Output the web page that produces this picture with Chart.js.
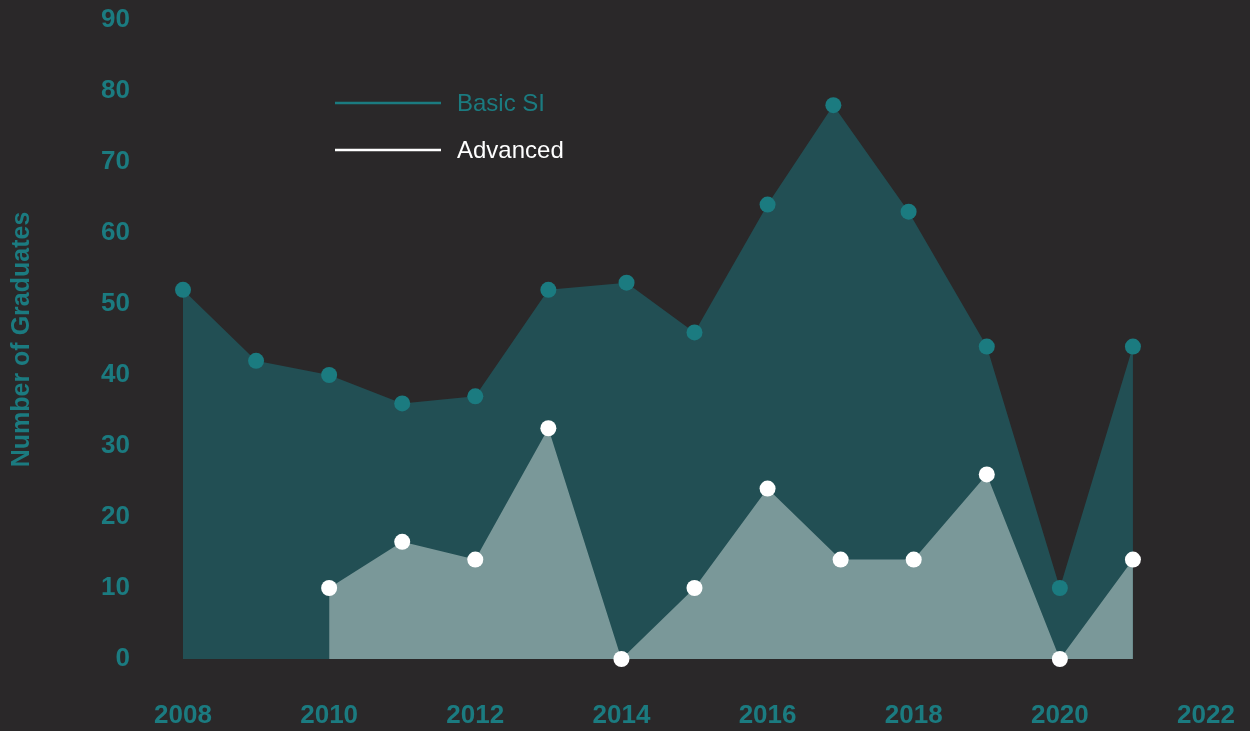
<!DOCTYPE html>
<html>
<head>
<meta charset="utf-8">
<script src="https://cdn.jsdelivr.net/npm/chart.js@4"></script>
<style>
  html, body { margin: 0; padding: 0; background: #2a2829; }
  #wrap { width: 1250px; height: 731px; }
</style>
</head>
<body>
<div id="wrap"><canvas id="gradChart" width="1250" height="731"></canvas></div>
<script>
// data
const seriesLabels = ['Basic SI', 'Advanced'];
const basicYears = [2008, 2009, 2010, 2011, 2012, 2013, 2014.07, 2015, 2016, 2016.9, 2017.93, 2019, 2020, 2021];
const basicValues = [52, 42, 40, 36, 37, 52, 53, 46, 64, 78, 63, 44, 10, 44];
const advYears = [2010, 2011, 2012, 2013, 2014, 2015, 2016, 2017, 2018, 2019, 2020, 2021];
const advValues = [10, 16.5, 14, 32.5, 0, 10, 24, 14, 14, 26, 0, 14];
const xTickYears = [2008, 2010, 2012, 2014, 2016, 2018, 2020, 2022];
const yTickValues = [0, 10, 20, 30, 40, 50, 60, 70, 80, 90];

const teal = '#1b7b80';
const tealFill = '#224f54';
const greyFill = '#7a9899';
const white = '#ffffff';
const fontFam = '"Liberation Sans", Arial, sans-serif';

function toPoints(xs, ys) {
  return xs.map((x, i) => ({ x: x, y: ys[i] }));
}

const legendPlugin = {
  id: 'sideLegend',
  afterDraw(chart) {
    const ctx = chart.ctx;
    chart.data.datasets.forEach((ds, i) => {
      const y = 103 + i * 47;
      ctx.save();
      ctx.strokeStyle = ds.legendColor;
      ctx.lineWidth = 2.5;
      ctx.beginPath();
      ctx.moveTo(335, y);
      ctx.lineTo(441, y);
      ctx.stroke();
      ctx.fillStyle = ds.legendColor;
      ctx.font = '24px ' + fontFam;
      ctx.textBaseline = 'middle';
      ctx.fillText(ds.label, 457, y + 1);
      ctx.restore();
    });
  }
};

const config = {
  type: 'line',
  data: {
    datasets: [{
      label: seriesLabels[0],
      data: toPoints(basicYears, basicValues),
      order: 1,
      clip: false,
      fill: 'origin',
      backgroundColor: tealFill,
      borderColor: 'rgba(0,0,0,0)',
      borderWidth: 0,
      tension: 0,
      pointRadius: 8,
      pointHoverRadius: 8,
      pointBorderWidth: 0,
      pointBackgroundColor: teal,
      pointBorderColor: 'rgba(0,0,0,0)',
      legendColor: teal
    }, {
      label: seriesLabels[1],
      data: toPoints(advYears, advValues),
      order: 0,
      clip: false,
      fill: 'origin',
      backgroundColor: greyFill,
      borderColor: 'rgba(0,0,0,0)',
      borderWidth: 0,
      tension: 0,
      pointRadius: 8,
      pointHoverRadius: 8,
      pointBorderWidth: 0,
      pointBackgroundColor: white,
      pointBorderColor: 'rgba(0,0,0,0)',
      legendColor: white
    }]
  },
  options: {
    responsive: false,
    animation: false,
    events: [],
    layout: { padding: { top: 20, right: 44, left: 0, bottom: 0 } },
    plugins: {
      legend: { display: false },
      tooltip: { enabled: false }
    },
    scales: {
      x: {
        type: 'linear',
        min: 2008,
        max: 2022,
        grid: { display: false, drawTicks: false },
        border: { display: false },
        afterBuildTicks: (scale) => { scale.ticks = xTickYears.map(v => ({ value: v })); },
        afterFit: (scale) => {
          scale.height = 72;
          scale.paddingLeft = 0;
          scale.paddingRight = 0;
        },
        ticks: {
          color: teal,
          padding: 41,
          maxRotation: 0,
          autoSkip: false,
          font: { family: fontFam, size: 26, weight: 'bold' },
          callback: (v) => String(v)
        }
      },
      y: {
        min: 0,
        max: 90,
        grid: { display: false, drawTicks: false },
        border: { display: false },
        afterBuildTicks: (scale) => { scale.ticks = yTickValues.map(v => ({ value: v })); },
        afterFit: (scale) => {
          scale.width = 183;
          scale.paddingTop = 0;
          scale.paddingBottom = 0;
        },
        title: {
          display: true,
          text: 'Number of Graduates',
          color: teal,
          padding: { top: 7, bottom: 0 },
          font: { family: fontFam, size: 25, weight: 'bold' }
        },
        ticks: {
          color: teal,
          padding: 53,
          font: { family: fontFam, size: 26, weight: 'bold' },
          callback: (v) => String(v)
        }
      }
    }
  },
  plugins: [legendPlugin]
};

const gradChart = new Chart(document.getElementById('gradChart'), config);
</script>
</body>
</html>
